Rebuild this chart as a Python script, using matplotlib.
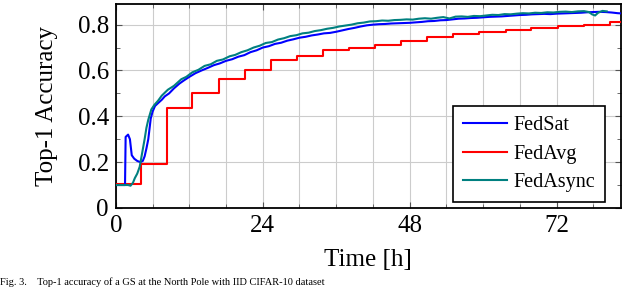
import numpy as np
import matplotlib.pyplot as plt
from matplotlib.ticker import MultipleLocator, FuncFormatter

plt.rcParams['font.family'] = ['Liberation Serif', 'DejaVu Serif']

# FedSat (blue)
sat_t = [0, 1.5, 1.6, 2.0, 2.3, 2.6, 3.0, 3.5, 4.0, 4.4, 4.7, 5.0, 5.3, 5.7, 6.0, 6.4,
         7.0, 7.5, 8.0, 8.7, 9.5, 10.4, 11.2, 12.0, 13.0, 14.0, 15.0, 16.0, 17.0, 18.0,
         19.0, 20.0, 21.0, 22.0, 23.0, 24.0, 25, 26, 27, 28, 29, 30, 31, 32, 33, 34, 35,
         36, 37, 38, 39, 40, 41, 42, 43, 44, 45, 46, 47, 48, 49, 50, 51, 52, 53, 54, 55,
         56, 57, 58, 59, 60, 61, 62, 63, 64, 65, 66, 67, 68, 69, 70, 71, 72, 73, 74, 75,
         76, 77, 78, 79, 80, 81, 82, 82.6]
sat_acc = [0.10, 0.10, 0.31, 0.32, 0.30, 0.23, 0.215, 0.205, 0.20, 0.205, 0.225, 0.26,
           0.30, 0.39, 0.42, 0.445, 0.46, 0.472, 0.487, 0.50, 0.522, 0.543, 0.558, 0.572,
           0.588, 0.60, 0.611, 0.623, 0.631, 0.642, 0.649, 0.66, 0.667, 0.68, 0.688, 0.70,
           0.706, 0.716, 0.721, 0.73, 0.736, 0.743, 0.747, 0.753, 0.757, 0.762, 0.764,
           0.769, 0.775, 0.781, 0.786, 0.792, 0.797, 0.80, 0.802, 0.803, 0.805, 0.806,
           0.807, 0.808, 0.81, 0.812, 0.815, 0.816, 0.819, 0.82, 0.823, 0.826, 0.827,
           0.829, 0.83, 0.832, 0.834, 0.835, 0.836, 0.838, 0.84, 0.842, 0.843, 0.845,
           0.846, 0.847, 0.846, 0.848, 0.849, 0.85, 0.851, 0.852, 0.854, 0.855, 0.856,
           0.855, 0.853, 0.85, 0.849]

# FedAvg (red, one step per round)
avg_t = [0, 4.1, 8.3, 12.5, 16.8, 21.1, 25.3, 29.6, 33.9, 38.1, 42.3, 46.6, 50.9, 55.1,
         59.4, 63.7, 67.9, 72.2, 76.5, 80.7, 82.6]
avg_acc = [0.105, 0.19, 0.435, 0.50, 0.564, 0.60, 0.644, 0.662, 0.690, 0.699, 0.711,
           0.727, 0.745, 0.760, 0.767, 0.778, 0.786, 0.793, 0.800, 0.812, 0.812]

# FedAsync (teal)
async_t = [0, 2.0, 2.4, 2.8, 3.1, 3.5, 3.9, 4.3, 4.7, 5.0, 5.3, 5.8, 6.3, 6.9, 7.5, 8.5,
           9.5, 10.7, 11.5, 12.5, 13.5, 14.5, 15.5, 16.5, 17.5, 18.6, 19.5, 20.5, 21.5,
           22.5, 23.5, 24.5, 25.5, 26.5, 27.5, 28.5, 29.5, 30.5, 31.5, 32.5, 33.5, 34.5,
           35.5, 36.5, 37.5, 38.5, 39.5, 40.5, 41.5, 42.5, 43.5, 44.5, 45.5, 46.5, 47.5,
           48.5, 49.5, 50.5, 51.5, 52.5, 53.5, 54.5, 55.5, 56.5, 57.5, 58.5, 59.5, 60.5,
           61.5, 62.5, 63.5, 64.5, 65.5, 66.5, 67.5, 68.5, 69.5, 70.5, 71.5, 72.5, 73.5,
           74.5, 75.5, 76.5, 77.3, 77.8, 78.3, 78.8, 79.5, 80.2]
async_acc = [0.10, 0.10, 0.097, 0.11, 0.13, 0.15, 0.18, 0.24, 0.30, 0.35, 0.385, 0.43,
             0.45, 0.468, 0.49, 0.516, 0.533, 0.562, 0.572, 0.592, 0.603, 0.62, 0.627,
             0.642, 0.648, 0.662, 0.668, 0.68, 0.688, 0.70, 0.708, 0.72, 0.724, 0.735,
             0.741, 0.75, 0.754, 0.762, 0.765, 0.772, 0.776, 0.782, 0.786, 0.792, 0.796,
             0.80, 0.806, 0.809, 0.814, 0.815, 0.818, 0.817, 0.82, 0.821, 0.823, 0.822,
             0.826, 0.828, 0.826, 0.83, 0.833, 0.827, 0.835, 0.836, 0.834, 0.838, 0.837,
             0.84, 0.843, 0.842, 0.846, 0.845, 0.848, 0.85, 0.849, 0.852, 0.851, 0.854,
             0.853, 0.856, 0.857, 0.855, 0.858, 0.859, 0.855, 0.845, 0.84, 0.852, 0.86,
             0.858]

fig = plt.figure(figsize=(6.4, 2.88), dpi=100)
ax = fig.add_axes([0.181, 0.278, 0.789, 0.708])

ax.plot(sat_t, sat_acc, color='#0000ff', lw=1.5, label='FedSat', zorder=4)
ax.plot(avg_t, avg_acc, color='#ff0000', lw=1.5, drawstyle='steps-post', label='FedAvg', zorder=3)
ax.plot(async_t, async_acc, color='#008080', lw=1.5, label='FedAsync', zorder=5)

ax.set_xlim(0, 82.5)
ax.set_ylim(0, 0.89)
ax.xaxis.set_major_locator(MultipleLocator(24))
ax.xaxis.set_minor_locator(MultipleLocator(6))
ax.yaxis.set_major_locator(MultipleLocator(0.2))
ax.yaxis.set_minor_locator(MultipleLocator(0.1))
ax.yaxis.set_major_formatter(FuncFormatter(lambda v, p: '0' if abs(v) < 1e-9 else f'{v:.1f}'))

ax.grid(True, which='major', color='#cccccc', lw=0.8)
ax.grid(True, which='minor', axis='x', color='#cccccc', lw=0.8)
ax.set_axisbelow(True)

ax.tick_params(which='both', direction='in', top=True, right=True, color='#555555')
ax.tick_params(which='major', length=4, labelsize=18, pad=5)
ax.tick_params(which='minor', length=3)
for s in ax.spines.values():
    s.set_linewidth(1.3)

ax.set_xlabel('Time [h]', fontsize=18, labelpad=9)
ax.set_ylabel('Top-1 Accuracy', fontsize=18, labelpad=14)

leg = ax.legend(loc='lower right', fontsize=14.5, fancybox=False, edgecolor='black',
                framealpha=1, handlelength=2.2, handletextpad=0.3, borderpad=0.5,
                labelspacing=0.45, borderaxespad=0, bbox_to_anchor=(0.968, 0.03))
leg.get_frame().set_linewidth(1.2)

fig.text(0.0, 0.003, 'Fig. 3.    Top-1 accuracy of a GS at the North Pole with IID CIFAR-10 dataset',
         fontsize=7.5, va='bottom', ha='left')

fig.savefig('out.png', dpi=100)
